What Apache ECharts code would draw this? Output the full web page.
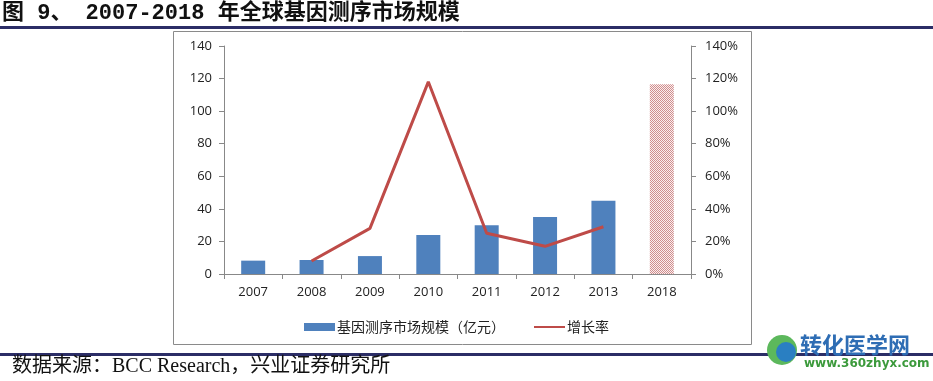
<!DOCTYPE html>
<html><head><meta charset="utf-8">
<script src="https://cdn.jsdelivr.net/npm/echarts@6/dist/echarts.min.js"></script>
<style>html,body{margin:0;padding:0;background:#fff}#c{width:933px;height:381px}</style>
</head><body><div id="c"></div>
<script>
const categories = ['2007','2008','2009','2010','2011','2012','2013','2018'];
const marketSize = [8.2, 8.6, 11, 24, 30, 35, 45, 116.5];
const forecastIndex = 7;
const growthRate = [null, 8, 28, 118, 25, 17, 29, null];
const seriesNames = ['基因测序市场规模（亿元）', '增长率'];
const titleText = '图 9、 2007-2018 年全球基因测序市场规模';
const sourceText = '数据来源：BCC Research，兴业证券研究所';

// hatch pattern for forecast bar
const pc = document.createElement('canvas');
pc.width = 2; pc.height = 2;
const pctx = pc.getContext('2d');
pctx.fillStyle = '#fbeeee';
pctx.fillRect(0,0,2,2);
pctx.fillStyle = '#cf8e8e';
pctx.fillRect(0,0,1,1); pctx.fillRect(1,1,1,1);

const barData = marketSize.map((v,i) => i === forecastIndex
  ? {value: v, itemStyle: {color: {image: pc, repeat: 'repeat'}}}
  : v);

const chart = echarts.init(document.getElementById('c'));
const axisFont = {fontFamily: 'Open Sans, Noto Sans, sans-serif', fontSize: 13, color: '#222'};
chart.setOption({
  animation: false,
  backgroundColor: '#fff',
  grid: {left: 224, right: 242, top: 46, bottom: 107},
  legend: {
    left: 299, top: 315, itemGap: 28, itemWidth: 31, itemHeight: 8,
    textStyle: {fontFamily: 'Noto Sans CJK SC', fontSize: 14, color: '#222', padding: [0,0,0,-3]},
    data: [
      {name: seriesNames[0], icon: 'rect'},
      {name: seriesNames[1], itemStyle: {color: 'transparent', borderWidth: 0, opacity: 0}}
    ],
    lineStyle: {width: 2}
  },
  xAxis: {
    type: 'category', data: categories,
    axisLine: {lineStyle: {color: '#888'}},
    axisTick: {show: true, length: 5, lineStyle: {color: '#888'}},
    axisLabel: Object.assign({margin: 12}, axisFont)
  },
  yAxis: [
    {type: 'value', min: 0, max: 140, interval: 20, splitLine: {show: false},
     axisLine: {show: true, lineStyle: {color: '#888'}},
     axisTick: {show: true, length: 5, lineStyle: {color: '#888'}},
     axisLabel: Object.assign({margin: 12}, axisFont)},
    {type: 'value', min: 0, max: 140, interval: 20, splitLine: {show: false},
     axisLine: {show: true, lineStyle: {color: '#888'}},
     axisTick: {show: true, length: 5, lineStyle: {color: '#888'}},
     axisLabel: Object.assign({margin: 14, formatter: '{value}%'}, axisFont)}
  ],
  series: [
    {name: seriesNames[0], type: 'bar', data: barData, barWidth: 24,
     itemStyle: {color: '#4F81BD'}},
    {name: seriesNames[1], type: 'line', yAxisIndex: 1, data: growthRate,
     symbol: 'none', lineStyle: {color: '#BE4B48', width: 3}, itemStyle: {color: '#BE4B48'}}
  ],
  graphic: [
    {type: 'text', left: 2, top: 2, style: {text: titleText, font: 'bold 22px "Liberation Mono", "Noto Sans CJK SC"', fill: '#111'}},
    {type: 'rect', shape: {x: 0, y: 26, width: 933, height: 3}, style: {fill: '#2B2D66'}},
    {type: 'rect', shape: {x: 173.5, y: 31.5, width: 578, height: 313}, style: {fill: 'none', stroke: '#8a8a8a', lineWidth: 1}},
    {type: 'rect', shape: {x: 0, y: 353, width: 933, height: 3}, style: {fill: '#2B2D66'}},
    {type: 'text', left: 12, top: 357, style: {text: sourceText, font: '20px "Liberation Serif", "Noto Sans CJK SC"', fill: '#111'}},
    {type: 'circle', shape: {cx: 782, cy: 350, r: 15}, style: {fill: '#5cb85c'}},
    {type: 'circle', shape: {cx: 786, cy: 352, r: 10}, style: {fill: '#2a7fc2'}},
    {type: 'text', left: 800, top: 334, style: {text: '转化医学网', font: 'bold 22px "Noto Sans CJK SC"', fill: '#2E6DB4'}},
    {type: 'text', left: 804, top: 358, style: {text: 'www.360zhyx.com', font: 'bold 12px "DejaVu Sans"', fill: '#3C9A3C'}}
  ]
});
</script>
</body></html>
